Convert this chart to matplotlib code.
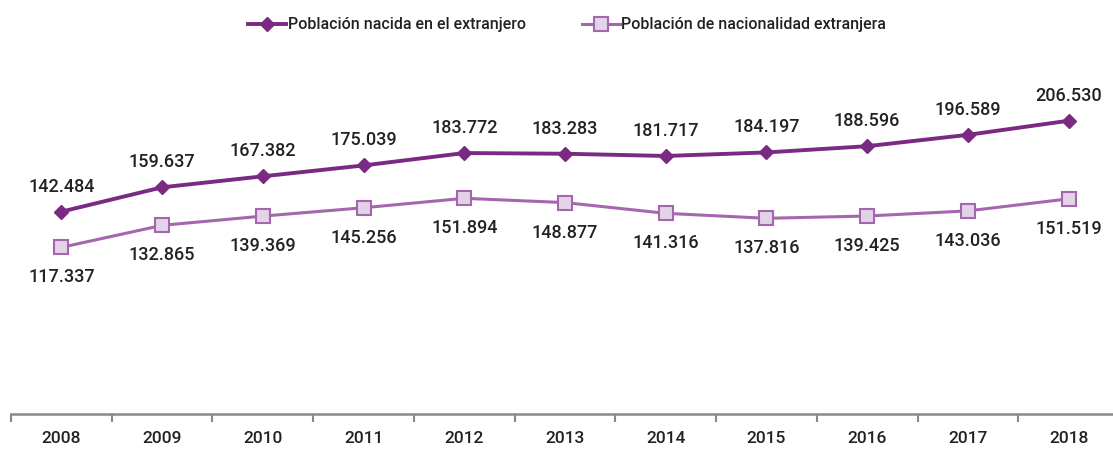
import matplotlib
matplotlib.use("Agg")
import matplotlib.pyplot as plt

years = ["2008", "2009", "2010", "2011", "2012", "2013", "2014", "2015", "2016", "2017", "2018"]
nacida = [142484, 159637, 167382, 175039, 183772, 183283, 181717, 184197, 188596, 196589, 206530]
nacionalidad = [117337, 132865, 139369, 145256, 151894, 148877, 141316, 137816, 139425, 143036, 151519]

dark = "#7a2a82"
light_line = "#a467ae"
light_face = "#e3d3e8"

plt.rcParams["font.family"] = ["Roboto", "DejaVu Sans"]

fig = plt.figure(figsize=(11.13, 4.5), dpi=100)
ax = fig.add_axes([11 / 1113, 36 / 450, 1108 / 1113, 355 / 450])

x = list(range(len(years)))
ax.plot(x, nacida, color=dark, lw=2.8, marker="D", ms=7, mfc=dark, mec=dark,
        label="Población nacida en el extranjero")
ax.plot(x, nacionalidad, color=light_line, lw=2.2, marker="s", ms=10, mfc=light_face,
        mec=light_line, mew=1.5, label="Población de nacionalidad extranjera")


def fmt(v):
    return f"{v:,}".replace(",", ".")


for i, v in enumerate(nacida):
    ax.annotate(fmt(v), (i, v), xytext=(0, 25), textcoords="offset pixels",
                ha="center", va="center", fontsize=13, color="#222222", weight="medium")
for i, v in enumerate(nacionalidad):
    ax.annotate(fmt(v), (i, v), xytext=(0, -30), textcoords="offset pixels",
                ha="center", va="center", fontsize=13, color="#222222", weight="medium")

ax.set_xlim(-0.5, len(years) - 0.5)
ax.set_ylim(0, 250000)
ax.set_xticks(x)
ax.set_xticklabels(years, fontsize=12.5, color="#222222", weight="medium")
ax.set_xticks([i - 0.5 for i in range(len(years) + 1)], minor=True)
ax.tick_params(axis="x", which="major", length=0, pad=12)
ax.tick_params(axis="x", which="minor", length=6, width=1.5, color="#888888")
ax.set_yticks([])
for s in ["top", "right", "left"]:
    ax.spines[s].set_visible(False)
ax.spines["bottom"].set_color("#888888")
ax.spines["bottom"].set_linewidth(1.8)

leg = fig.legend(loc="center", bbox_to_anchor=(567 / 1113, 1 - 25 / 450), ncol=2, frameon=False,
                 fontsize=11.5, handlelength=2.4, columnspacing=3.5, handletextpad=0.1,
                 prop={"size": 11.5, "weight": "medium"})
for t in leg.get_texts():
    t.set_color("#222222")

fig.savefig("out.png", dpi=100)
